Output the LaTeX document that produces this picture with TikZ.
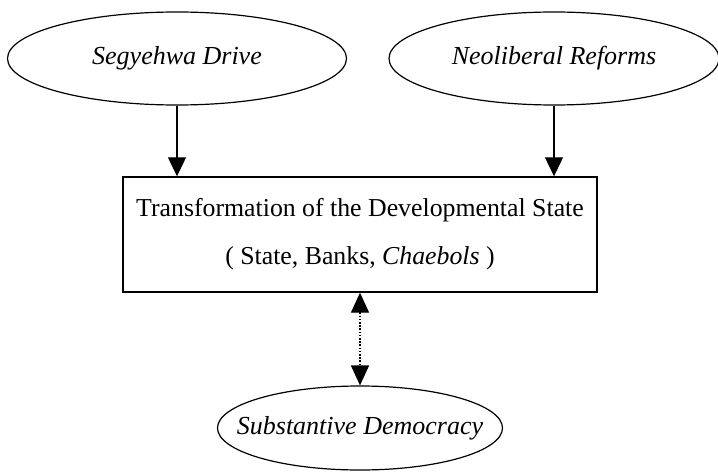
\documentclass[tikz,border=0pt]{standalone}
\usepackage{fontspec}
\setmainfont{Liberation Serif}
\usetikzlibrary{shapes.geometric,arrows.meta}
\newcommand{\zw}[1]{\makebox[0pt]{#1}}
\begin{document}
\begin{tikzpicture}[x=1pt,y=-1pt,
  oval/.style={draw,ellipse,line width=1.2pt,inner sep=0pt,font=\fontsize{26}{30}\selectfont\itshape},
  mainbox/.style={draw,rectangle,line width=1.4pt,inner sep=0pt,align=center,font=\fontsize{25.8}{48}\selectfont},
  arr/.style={line width=1.2pt,-{Triangle[width=18pt,length=19pt]}},
  darr/.style={line width=1.4pt,dash pattern=on 1.6pt off 1.6pt,{Triangle[width=18pt,length=20pt]}-{Triangle[width=18pt,length=20pt]}}]
\useasboundingbox (0,0) rectangle (718,476);
\node[oval,minimum width=339pt,minimum height=93pt] (seg) at (177,58.5) {\zw{Segyehwa Drive}};
\node[oval,minimum width=330pt,minimum height=93pt] (neo) at (554,58.5) {\zw{Neoliberal Reforms}};
\node[mainbox,minimum width=474pt,minimum height=115pt] (state) at (360,234.5)
  {Transformation of the Developmental State\\( State, Banks, \textit{Chaebols} )};
\node[oval,minimum width=285pt,minimum height=84pt] (dem) at (360,428) {\zw{Substantive Democracy}};
\draw[arr] (seg.south) -- (seg.south |- state.north);
\draw[arr] (neo.south) -- (neo.south |- state.north);
\draw[darr] (state.south) -- (dem.north);
\end{tikzpicture}
\end{document}
